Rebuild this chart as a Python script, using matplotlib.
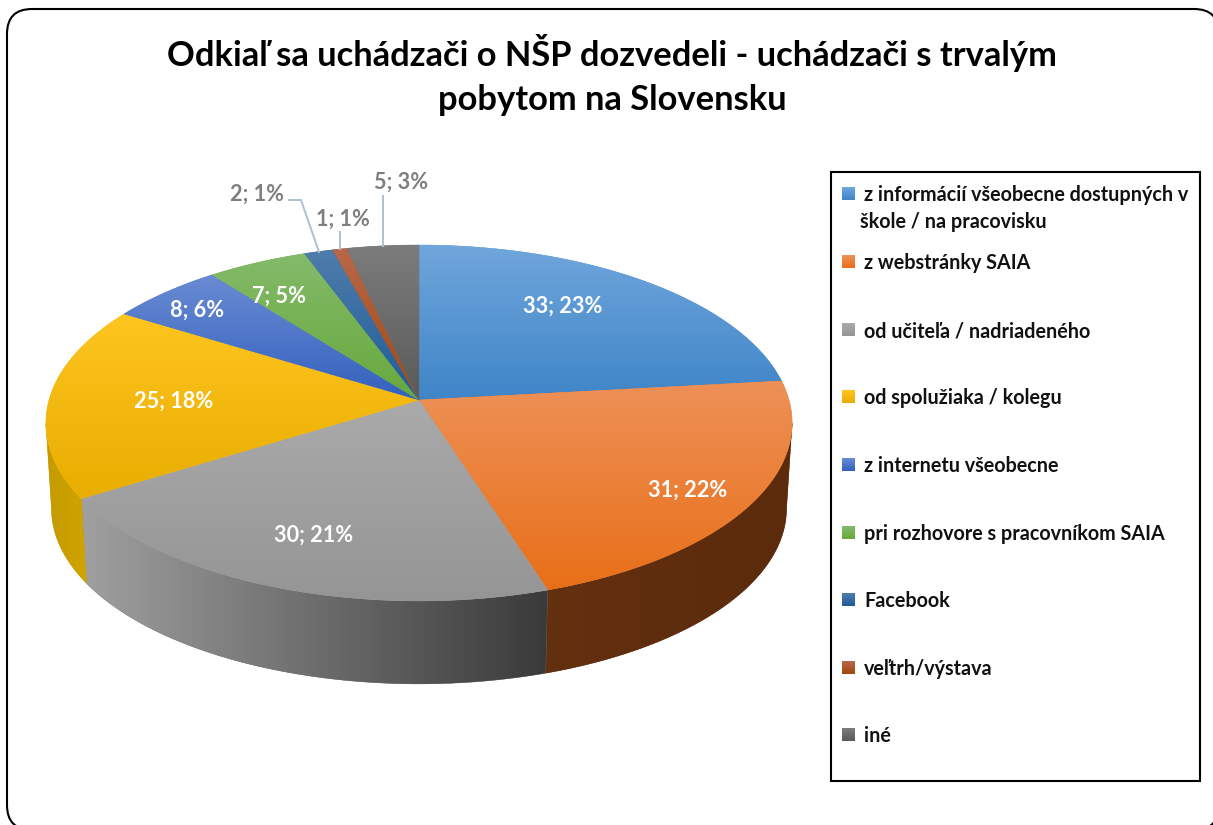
import numpy as np
import matplotlib
matplotlib.use("Agg")
import matplotlib.pyplot as plt
from matplotlib.colors import to_rgb
from matplotlib.patches import FancyBboxPatch, Polygon, Rectangle

plt.rcParams['font.family'] = ['Lato', 'DejaVu Sans']

title = "Odkiaľ sa uchádzači o NŠP dozvedeli - uchádzači s trvalým\npobytom na Slovensku"
categories = ["z informácií všeobecne dostupných v", "z webstránky SAIA", "od učiteľa / nadriadeného",
              "od spolužiaka / kolegu", "z internetu všeobecne", "pri rozhovore s pracovníkom SAIA",
              "Facebook", "veľtrh/výstava", "iné"]
values = [33, 31, 30, 25, 8, 7, 2, 1, 5]
percents = [23, 22, 21, 18, 6, 5, 1, 1, 3]

top_light = ['#70a6dc', '#ee9158', '#aaaaaa', '#ffc520', '#6a8bd3', '#84ba6a', '#4f7dab', '#b8684a', '#7c7c7c']
top_dark = ['#3f85c8', '#e86f18', '#959595', '#e7ad00', '#3361be', '#67a93c', '#1f5b98', '#a2480c', '#5a5a5a']
side_left = ['#2a5a85', '#633010', '#a0a0a0', '#c49a00', '#2a4a90', '#4a7c2c', '#174370', '#7a360a', '#444444']
side_right = ['#2a5a85', '#5b2b0b', '#3a3a3a', '#d0a400', '#2a4a90', '#4a7c2c', '#174370', '#7a360a', '#444444']

label_xy = [(563, 306), (688, 490), (314, 535), (174, 401), (197, 310), (279, 296), (257, 194), (343, 219), (401, 182)]
label_col = ['white', 'white', 'white', 'white', 'white', 'white', '#7f7f7f', '#7f7f7f', '#7f7f7f']
legend_y = [194, 262, 330, 397, 465, 533, 600, 668, 735]


def project(theta, bottom=False):
    # pie lies on a tilted disc, theta runs clockwise from the far point
    far = np.cos(theta)
    w = 1 + 0.129 * far
    x = 370 * np.sin(theta) / w
    y = -175 * far / w
    if bottom:
        return 419 + 0.985 * x, 400 + 86 + 0.985 * y
    return 419 + x, 400 + y


def ramp(c0, c1, n=128):
    t = np.linspace(0, 1, n)[:, None]
    return (1 - t) * np.array(to_rgb(c0)) + t * np.array(to_rgb(c1))


def gradient(ax, poly, c0, c1, z, vertical=True):
    rgb = ramp(c0, c1)
    img = rgb[:, None, :] if vertical else rgb[None, :, :]
    x0, y0 = poly.min(axis=0)
    x1, y1 = poly.max(axis=0)
    # flat edge under the image keeps the borders smooth
    ax.add_patch(Polygon(poly, closed=True, fc=tuple(rgb[64]), ec=tuple(rgb[64]), lw=0.3, zorder=z))
    im = ax.imshow(img, extent=(x0, x1, y1, y0), aspect='auto', origin='upper', interpolation='bilinear', zorder=z + 0.1)
    im.set_clip_path(Polygon(poly, closed=True, transform=ax.transData))


fig = plt.figure(figsize=(12.13, 8.25), dpi=100)
ax = fig.add_axes([0, 0, 1, 1])

# outer frame runs past the right and bottom edge of the picture
ax.add_patch(FancyBboxPatch((7, 9), 1212, 821, boxstyle="round,pad=0,rounding_size=25", fc='white', ec='black',
                            lw=1.5, zorder=0))

edges = np.radians(np.cumsum([0] + values) / sum(values) * 360)

# where the side wall starts and stops being visible (widest points of the disc)
grid = np.linspace(0, 2 * np.pi, 1441)
gx = project(grid)[0]
th_right = grid[gx.argmax()]
th_left = grid[gx.argmin()]

# sides first, the top disc hides what is behind it
for i in range(len(values)):
    a = max(edges[i], th_right)
    b = min(edges[i + 1], th_left)
    if a >= b:
        continue
    th = np.linspace(a, b, 160)
    xt, yt = project(th)
    xb, yb = project(th, bottom=True)
    poly = np.column_stack([np.r_[xt, xb[::-1]], np.r_[yt, yb[::-1]]])
    gradient(ax, poly, side_left[i], side_right[i], 1 + i, vertical=False)

for i in range(len(values)):
    th = np.linspace(edges[i], edges[i + 1], 160)
    xt, yt = project(th)
    poly = np.column_stack([np.r_[419, xt], np.r_[400, yt]])
    gradient(ax, poly, top_light[i], top_dark[i], 20 + i)

for i, (x, y) in enumerate(label_xy):
    ax.text(x, y, f"{values[i]}; {percents[i]}%", color=label_col[i], fontsize=15.6, fontweight='bold',
            ha='center', va='center', zorder=40)

# leader lines of the small slices
ax.plot([289, 301, 319], [200, 200, 252], color='#afc0d3', lw=1.4, solid_joinstyle='miter', zorder=35)
ax.plot([340, 340], [232, 249], color='#afc0d3', lw=1.4, zorder=35)
ax.plot([383, 383], [196, 246], color='#afc0d3', lw=1.4, zorder=35)

ax.text(612, 75, title, fontsize=24.85, fontweight='bold', ha='center', va='center', linespacing=1.44, color='black')

# legend
ax.add_patch(Rectangle((831, 172), 369, 609, fc='white', ec='black', lw=1.5, zorder=41))
for i, name in enumerate(categories):
    y = legend_y[i]
    ax.imshow(ramp(top_light[i], top_dark[i], 32)[:, None, :], extent=(842, 855, y + 6.5, y - 6.5),
              aspect='auto', zorder=42)
    ax.text(864, y + 1, name, fontsize=14.2, fontweight='bold', ha='left', va='center', color='#111111', zorder=42)
ax.text(860, 222, "škole / na pracovisku", fontsize=14.2, fontweight='bold', ha='left', va='center',
        color='#111111', zorder=42)

ax.set_xlim(0, 1213)
ax.set_ylim(825, 0)
ax.axis('off')
fig.savefig("out.png", dpi=100)
